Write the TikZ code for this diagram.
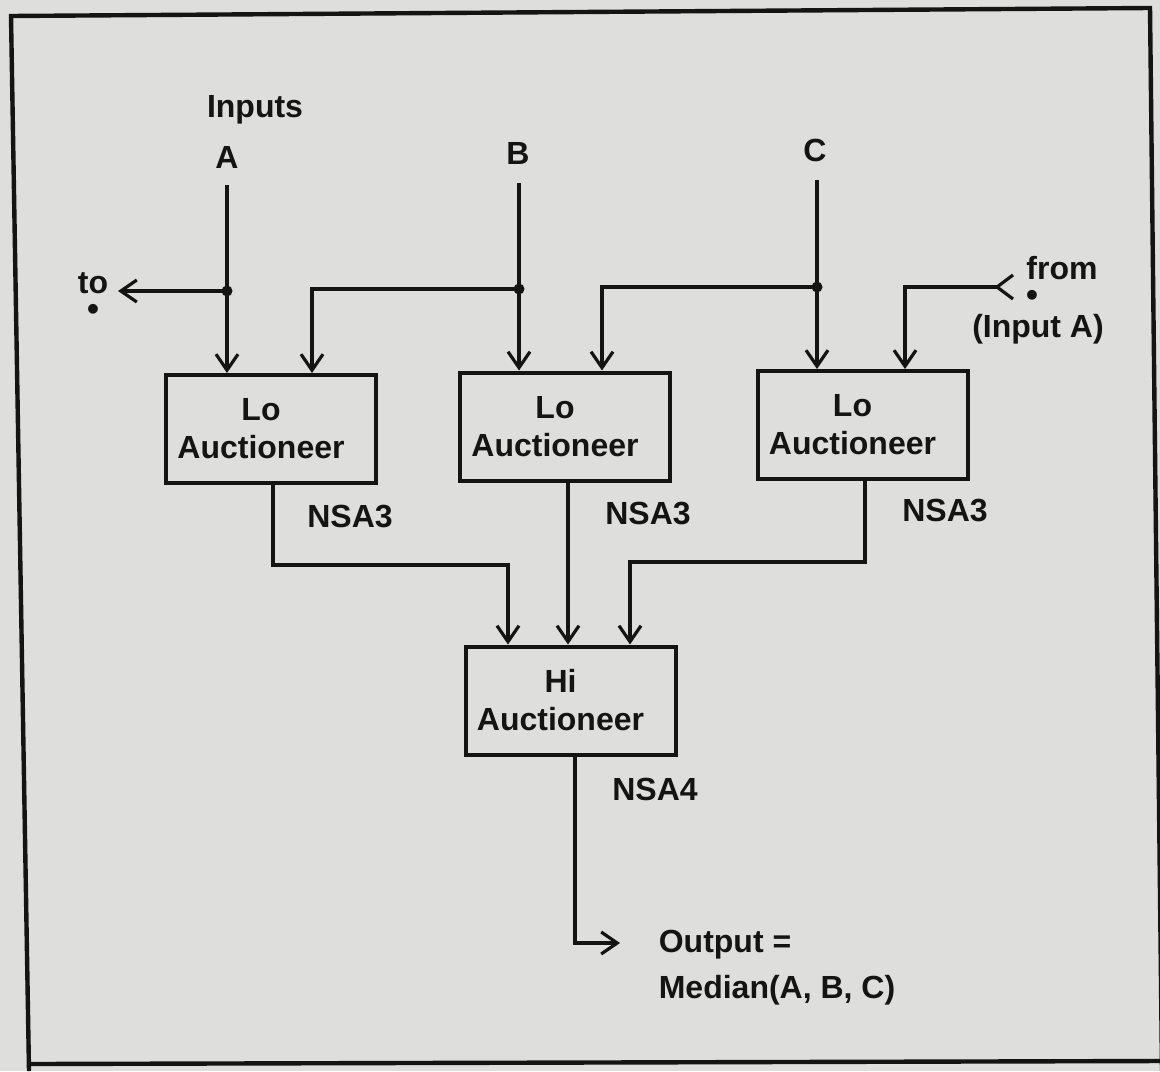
\documentclass[tikz,border=0pt]{standalone}
\usepackage{fontspec}
\setmainfont{Liberation Sans}
\usetikzlibrary{arrows.meta,calc}
\definecolor{paper}{RGB}{222,222,220}
\definecolor{ink}{RGB}{20,20,20}
\newcommand{\rpad}{\hspace*{10pt}}
\begin{document}
\begin{tikzpicture}[x=0.5pt,y=-0.5pt, line width=1.8pt, draw=ink,
  txt/.style={text=ink, font=\bfseries\fontsize{16}{19}\selectfont, inner sep=0pt},
  refmark/.style={text=ink, font=\bfseries\fontsize{17}{17}\selectfont, inner sep=0pt, text height=1.2ex, text depth=0pt},
  box/.style={draw=ink, line width=2pt, minimum width=105pt, minimum height=54pt, align=center, inner sep=0pt, text=ink, font=\bfseries\fontsize{16}{19}\selectfont},
  arr/.style={-{Straight Barb[length=8pt,width=11pt,line width=1.6pt]}},
  jdot/.style={circle, fill=ink, inner sep=0pt, minimum size=5.5pt}]
% background and bounding box
\fill[paper] (0,0) rectangle (1160,1071);
\useasboundingbox (0,0) rectangle (1160,1071);
% frame
\draw[line width=2.2pt] (29,1071) -- (11,16) -- (1150,8) -- (1162,1071);
\draw[line width=2.2pt] (29,1064) -- (1160,1061);

% labels
\node[txt] (inputs) at (255,110) {Inputs};
\node[txt] (A) at (227,157) {A};
\node[txt] (B) at (518,153) {B};
\node[txt] (C) at (815,150) {C};
\node[txt] (to) at (93,283) {to};
\node[refmark] (tostar) at (93,314) {•};
\node[txt] (from) at (1062,268) {from};
\node[refmark] (fromstar) at (1032,300) {•};
\node[txt] (inputA) at (1038,329) {(Input A)};

% boxes
\node[box] (b1) at (271,429) {Lo\rpad\\Auctioneer\rpad};
\node[box] (b2) at (565,426.5) {Lo\rpad\\Auctioneer\rpad};
\node[box] (b3) at (862.5,425) {Lo\rpad\\Auctioneer\rpad};
\node[box] (hi) at (570.5,700.5) {Hi\rpad\\Auctioneer\rpad};

\node[txt] (n1) at (350,516) {NSA3};
\node[txt] (n2) at (648,513) {NSA3};
\node[txt] (n3) at (945,510) {NSA3};
\node[txt] (n4) at (655,789) {NSA4};

\node[txt, anchor=west] (out1) at (657,945) {Output =};
\node[txt, anchor=west] (out2) at (657,990) {Median(A, B, C)};

% coordinates
\coordinate (tA) at (227,185);
\coordinate (tB) at (519,183);
\coordinate (tC) at (817,180);
\coordinate (jA) at (227,291);
\coordinate (jB) at (519,289);
\coordinate (jC) at (817,287);
\coordinate (toend) at (118,291);
\coordinate (fromend) at (997,287);
\coordinate (fromcorner) at (905,287);
\coordinate (cB1) at (312,289);
\coordinate (cC2) at (602,287);
\coordinate (o1a) at (273,565);
\coordinate (o1b) at (508,565);
\coordinate (o2) at (568,600);
\coordinate (o3a) at (865,562);
\coordinate (o3b) at (630,562);
\coordinate (oc) at (575,943);
\coordinate (oend) at (620,943);

% inputs
\draw[arr] (tA) -- (jA) -- (jA |- b1.north);
\draw[arr] (jA) -- (toend);
\draw[arr] (tB) -- (jB) -- (jB |- b2.north);
\draw[arr] (jB) -- (cB1) -- (cB1 |- b1.north);
\draw[arr] (tC) -- (jC) -- (jC |- b3.north);
\draw[arr] (jC) -- (cC2) -- (cC2 |- b2.north);
\draw[arr] (fromend) -- (fromcorner) -- (fromcorner |- b3.north);
\draw[line width=1.6pt] ($(fromend)+(16,-12)$) -- (fromend) -- ($(fromend)+(16,12)$);
\node[jdot] (dA) at (jA) {};
\node[jdot] (dB) at (jB) {};
\node[jdot] (dC) at (jC) {};

% outputs
\draw[arr] (o1a |- b1.south) -- (o1a) -- (o1b) -- (o1b |- hi.north);
\draw[arr] (o2 |- b2.south) -- (o2 |- hi.north);
\draw[arr] (o3a |- b3.south) -- (o3a) -- (o3b) -- (o3b |- hi.north);
\draw[arr] (oc |- hi.south) -- (oc) -- (oend);
\end{tikzpicture}
\end{document}
